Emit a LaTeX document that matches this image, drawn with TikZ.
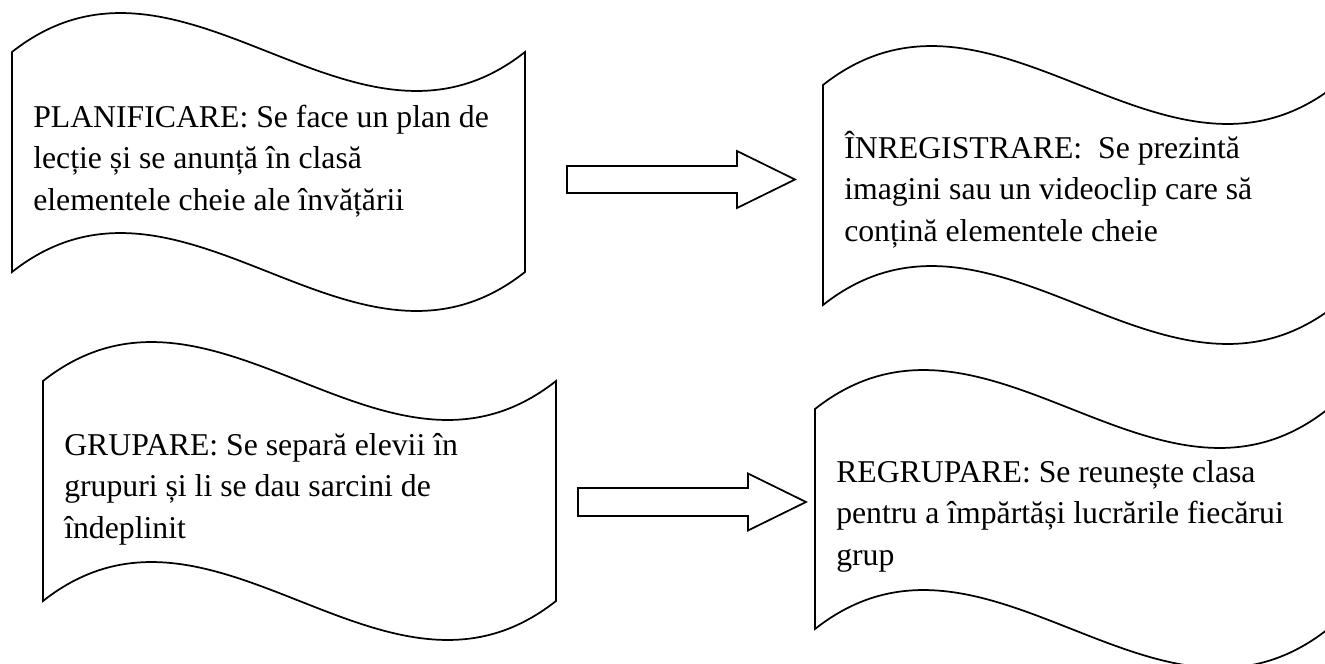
\documentclass[tikz,border=0pt]{standalone}
\usepackage{fontspec}
\setmainfont{Liberation Serif}
\usetikzlibrary{calc}
\tikzset{
  waveline/.style={draw, line width=1.3pt, fill=white},
  wavetext/.style={anchor=north west, inner sep=0pt, align=left,
                   font=\fontsize{23.8}{31.1}\selectfont},
  blockarr/.style={draw, line width=1.3pt, fill=white, line join=miter},
  wavebox/.pic={
    \draw[waveline] (0,0) .. controls (171,-135) and (342,135) .. (513,0)
      -- (513,220) .. controls (342,355) and (171,85) .. (0,220) -- cycle;
  },
}
\begin{document}
\begin{tikzpicture}[x=0.75pt,y=-0.75pt]
  \useasboundingbox (0,0) rectangle (1325,664);
  \clip (0,0) rectangle (1325,664);
  %% wave boxes
  \pic (wplan) at (12,52) {wavebox};
  \pic (winreg) at (823,85) {wavebox};
  \pic (wgrup) at (43,381) {wavebox};
  \pic (wregr) at (815,409) {wavebox};
  \node[wavetext] (plan) at (33,98)
    {\strut PLANIFICARE: Se face un plan de\\lecție și se anunță în clasă\\elementele cheie ale învățării};
  \node[wavetext] (inreg) at (844,129)
    {\strut ÎNREGISTRARE:\ \ Se prezintă\\imagini sau un videoclip care să\\conțină elementele cheie};
  \node[wavetext] (grup) at (64,426)
    {\strut GRUPARE: Se separă elevii în\\grupuri și li se dau sarcini de\\îndeplinit};
  \node[wavetext] (regr) at (836,453)
    {\strut REGRUPARE: Se reunește clasa\\pentru a împărtăși lucrările fiecărui\\grup};
  %% block arrows
  \coordinate (a1tail) at (567,179.5);
  \coordinate (a1tip) at (795,179.5);
  \coordinate (a2tail) at (578,502);
  \coordinate (a2tip) at (806,502);
  \draw[blockarr] ($(a1tail)+(0,-13.5)$) -- ($(a1tip)+(-58,-13.5)$) -- ($(a1tip)+(-58,-28.5)$)
    -- (a1tip) -- ($(a1tip)+(-58,28.5)$) -- ($(a1tip)+(-58,13.5)$) -- ($(a1tail)+(0,13.5)$) -- cycle;
  \draw[blockarr] ($(a2tail)+(0,-14)$) -- ($(a2tip)+(-58,-14)$) -- ($(a2tip)+(-58,-28.5)$)
    -- (a2tip) -- ($(a2tip)+(-58,28.5)$) -- ($(a2tip)+(-58,14)$) -- ($(a2tail)+(0,14)$) -- cycle;
\end{tikzpicture}
\end{document}
